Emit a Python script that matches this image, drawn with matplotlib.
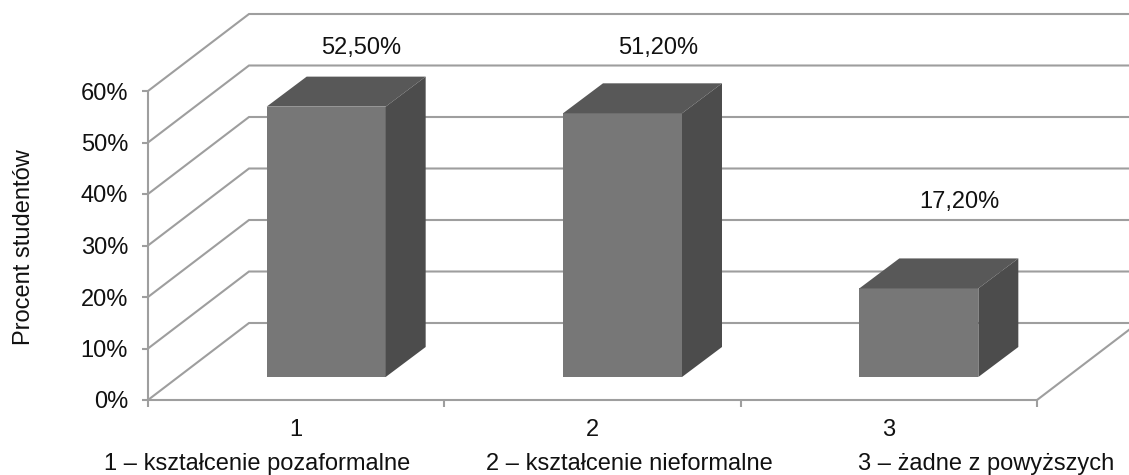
import matplotlib
matplotlib.use("Agg")
import matplotlib.pyplot as plt
from matplotlib.patches import Polygon
from matplotlib.transforms import Affine2D

plt.rcParams["font.family"] = ["Liberation Sans", "DejaVu Sans"]

categories = ["1", "2", "3"]
values = [52.5, 51.2, 17.2]
value_labels = ["52,50%", "51,20%", "17,20%"]
y_ticks = [0, 10, 20, 30, 40, 50, 60]
y_tick_labels = ["0%", "10%", "20%", "30%", "40%", "50%", "60%"]
legend_labels = ["1 – kształcenie pozaformalne", "2 – kształcenie nieformalne", "3 – żadne z powyższych"]

W, H = 1129, 475
x0_px, x1_px = 148, 1037
y0_px, y60_px = 400, 91
sx = (x1_px - x0_px) / 3
sy = (y0_px - y60_px) / 60

GRID = "#9e9e9e"
FRONT = "#777777"
TOP = "#585858"
SIDE = "#4c4c4c"
TXT = "#111111"
FS = 17

fig = plt.figure(figsize=(W / 100, H / 100), dpi=100, facecolor="white")
ax = fig.add_axes([0, 0, 1, 1])
# data coords: categories on x (1, 2, 3), percent on y, axes fill the whole figure
ax.set_xlim(0.5 - x0_px / sx, 0.5 + (W - x0_px) / sx)
ax.set_ylim(-(H - y0_px) / sy, y0_px / sy)
ax.axis("off")

# depth of the walls and of the bars, in data units
wall_dx, wall_dy = 101 / sx, 77 / sy
bar_dx, bar_dy = 40 / sx, 30 / sy
base_dx, base_dy = 30 / sx, 23 / sy
bar_w = 119 / sx
left, right = 0.5, 3.5
far_right = 0.5 + (W + 20 - x0_px) / sx
line = dict(color=GRID, lw=1.5, solid_capstyle="butt", solid_joinstyle="miter", zorder=1)

for t in y_ticks:
    ax.plot([left, left + wall_dx, far_right], [t, t + wall_dy, t + wall_dy], **line)
ax.plot([left, left], [0, 60], **line)
ax.plot([left, right], [0, 0], **line)
ax.plot([right, right + wall_dx], [0, wall_dy], **line)

# tick marks
for t, lab in zip(y_ticks, y_tick_labels):
    ax.plot([left - 6 / sx, left], [t, t], **line)
    ax.text(left - 20 / sx, t - 8.5 / sy, lab, ha="right", va="baseline", fontsize=FS, color=TXT)
for edge in [0.5, 1.5, 2.5, 3.5]:
    ax.plot([edge, edge], [0, -7 / sy], **line)

for i, (cat, v) in enumerate(zip(categories, values)):
    xc = i + 1 + base_dx
    xl, xr = xc - bar_w / 2, xc + bar_w / 2
    yb, yt = base_dy, base_dy + v
    ax.add_patch(Polygon([(xl, yb), (xr, yb), (xr, yt), (xl, yt)], fc=FRONT, ec="none", zorder=3))
    ax.add_patch(Polygon([(xl, yt), (xr, yt), (xr + bar_dx, yt + bar_dy), (xl + bar_dx, yt + bar_dy)],
                         fc=TOP, ec="none", zorder=3))
    ax.add_patch(Polygon([(xr, yb), (xr + bar_dx, yb + bar_dy), (xr + bar_dx, yt + bar_dy), (xr, yt)],
                         fc=SIDE, ec="none", zorder=3))
    ax.text(i + 1, -36 / sy, cat, ha="center", va="baseline", fontsize=FS, color=TXT)

# free text placed in picture pixels
px = Affine2D().scale(1, -1).translate(0, H)
label_xy = [(361, 54), (658, 54), (959, 208)]
for lab, (x, y) in zip(value_labels, label_xy):
    ax.text(x, y, lab, transform=px, ha="center", va="baseline", fontsize=FS, color=TXT)
legend_x = [104, 486, 858]
for lab, x in zip(legend_labels, legend_x):
    ax.text(x, 470, lab, transform=px, ha="left", va="baseline", fontsize=FS, color=TXT)
ax.text(24, 247, "Procent studentów", transform=px, rotation=90, ha="center", va="center",
        fontsize=FS, color=TXT)

fig.savefig("out.png", dpi=100)
